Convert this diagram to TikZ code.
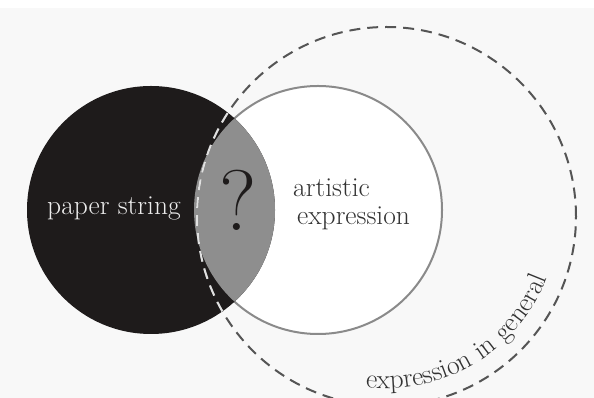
\documentclass[tikz,border=0pt]{standalone}
\usetikzlibrary{decorations.text}
\definecolor{bg}{HTML}{F8F8F8}
\definecolor{blackfill}{HTML}{1E1B1B}
\definecolor{lensfill}{HTML}{8E8E8E}
\definecolor{ringgray}{HTML}{8A8A8A}
\definecolor{dashgray}{HTML}{555555}
\definecolor{textlight}{HTML}{EDEDED}
\definecolor{textdark}{HTML}{333333}
\tikzset{
  dashring/.style={draw=dashgray, line width=2pt, dash pattern=on 11pt off 7pt},
  label/.style={inner sep=0pt, anchor=base west, font=\fontsize{27.5}{30}\selectfont},
}
\begin{document}
\begin{tikzpicture}[x=1pt,y=1pt]
\useasboundingbox (0,0) rectangle (594,398);
\fill[bg] (0,0) rectangle (594,398);
\fill[white] (0,390) rectangle (594,398);
\coordinate (cP) at (151,188);
\coordinate (cA) at (318,188);
\coordinate (cE) at (386.5,181.5);
% artistic expression circle
\fill[white] (cA) circle[radius=124];
\draw[ringgray, line width=2pt] (cA) circle[radius=124];
% paper string circle
\fill[blackfill] (cP) circle[radius=124];
\begin{scope}
  \clip (cP) circle[radius=124];
  \fill[lensfill] (cA) circle[radius=124];
\end{scope}
% expression in general
\draw[dashring] (cE) circle[radius=189.5];
\begin{scope}
  \clip (cP) circle[radius=124];
  \draw[dashring, draw=white!88!black] (cE) circle[radius=189.5];
\end{scope}
% texts
\node[label, text=textlight] (paper) at (47,183) {paper string};
\node[label, text=textdark] (art1) at (293,201) {artistic};
\node[label, text=textdark] (art2) at (297,173) {expression};
\node[inner sep=0pt, font=\fontsize{86}{90}\selectfont, text=blackfill] (q) at (238,198) {?};
\path[decorate, decoration={text along path,
  text={|\fontsize{27.5}{30}\selectfont\color{textdark}|expression in general}}]
  (cE) ++(263:172) arc[start angle=263, end angle=355, radius=172];
\end{tikzpicture}
\end{document}
